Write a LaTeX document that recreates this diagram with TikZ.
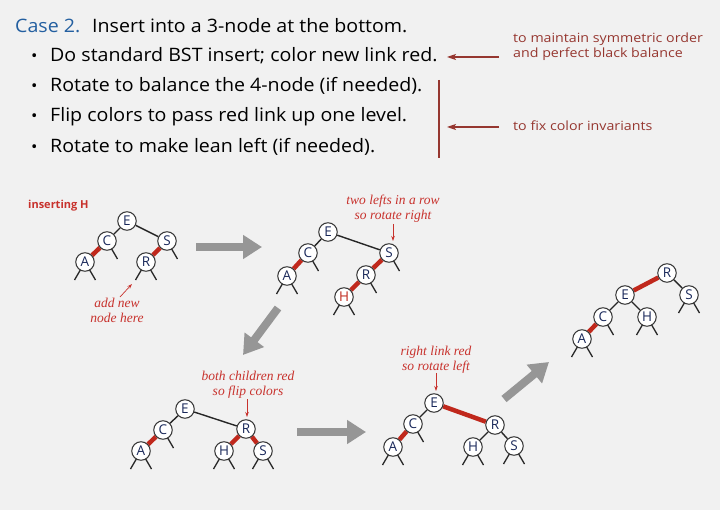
\documentclass[tikz,border=0pt]{standalone}
\usepackage{fontspec}
\setmainfont{Liberation Serif}
\setsansfont{Open Sans}
\newfontfamily\hdrfont{Open Sans}[FakeStretch=1.06]
\newfontfamily\sidefont{Open Sans}[FakeStretch=1.12]
\usetikzlibrary{arrows.meta}
\definecolor{bgc}{RGB}{241,241,241}
\definecolor{casecol}{RGB}{35,95,160}
\definecolor{darkred}{RGB}{150,55,48}
\definecolor{linkred}{RGB}{192,40,28}
\definecolor{annred}{RGB}{200,50,45}
\definecolor{keycol}{RGB}{25,40,90}
\definecolor{arrgrey}{RGB}{150,150,150}
\pgfdeclarelayer{bglayer}
\pgfdeclarelayer{links}
\pgfsetlayers{bglayer,links,main}
\tikzset{
  key/.style={circle, draw=black!80, fill=white, line width=1pt, minimum size=18.5pt, inner sep=0pt,
    font=\sffamily\fontsize{13.5}{13.5}\selectfont, text=keycol},
  newkey/.style={key, text=linkred},
  blk/.style={line width=1.4pt, draw=black!85},
  redl/.style={line width=4.5pt, draw=linkred},
  stubl/.style={line width=1.3pt, draw=black!85},
  bigarrow/.style={line width=8pt, draw=arrgrey, -{Triangle[width=23pt,length=19pt]}},
  note/.style={font=\itshape\fontsize{13.5}{15}\selectfont, text=annred, align=center},
  notearrow/.style={line width=0.7pt, draw=annred, -{Stealth[length=5pt,width=3.5pt]}},
  hdr/.style={anchor=base west, inner sep=0pt, font=\hdrfont\fontsize{18.5}{22}\selectfont},
  side/.style={anchor=base west, inner sep=0pt, font=\sidefont\fontsize{12.7}{15}\selectfont, text=darkred},
  sidearrow/.style={line width=1.1pt, draw=darkred, -{Stealth[length=9pt,width=6pt,inset=2pt]}}
}
\newcommand{\lst}[1]{\draw[stubl] (#1.center) -- ++(-10.5,18);}
\newcommand{\rst}[1]{\draw[stubl] (#1.center) -- ++(10.5,18);}
\newcommand{\bst}[1]{\lst{#1}\rst{#1}}
\begin{document}
\begin{tikzpicture}[x=1pt,y=-1pt]
\begin{pgfonlayer}{bglayer}
\fill[bgc] (0,0) rectangle (720,510);
\end{pgfonlayer}
\useasboundingbox (0,0) rectangle (720,510);

% ---------- header ----------
\node[hdr, text=casecol] (case) at (15,32.7) {Case 2.};
\node[hdr] (casetxt) at (92,32.7) {Insert into a 3-node at the bottom.};
\foreach \y/\t [count=\i] in {61.7/{Do standard BST insert; color new link red.},
                   91.7/{Rotate to balance the 4-node (if needed).},
                   122/{Flip colors to pass red link up one level.},
                   152.7/{Rotate to make lean left (if needed).}}{
  \node[hdr] (b\i) at (31,\y) {\fontsize{16}{16}\selectfont\textbullet};
  \node[hdr] (l\i) at (50,\y) {\t};
}
\node[side] (s1) at (513,43) {to maintain symmetric order};
\node[side] (s2) at (513,58) {and perfect black balance};
\node[side] (s3) at (513,131) {to fix color invariants};
\coordinate (a1s) at (499,57);
\coordinate (a1e) at (447,57);
\coordinate (a2s) at (499,127);
\coordinate (a2e) at (447,127);
\coordinate (vt) at (439,80);
\coordinate (vb) at (439,158);
\draw[sidearrow] (a1s) -- (a1e);
\draw[sidearrow] (a2s) -- (a2e);
\draw[line width=1.1pt, darkred] (vt) -- (vb);

% ---------- tree 1 ----------
\node[anchor=base west, inner sep=0pt, text=annred, font=\sffamily\bfseries\fontsize{11}{12}\selectfont] (ins) at (28,208.5) {inserting H};
\node[key] (E1) at (127,221) {E};
\node[key] (C1) at (107,241) {C};
\node[key] (S1) at (167,241) {S};
\node[key] (A1) at (85,262) {A};
\node[key] (R1) at (146,262) {R};
\node[note] (n1) at (117,310.5) {add new\\node here};
\coordinate (n1t) at (132,284);
\coordinate (n1s) at (120,297);
\draw[notearrow] (n1s) -- (n1t);
\begin{pgfonlayer}{links}
\draw[blk] (E1) -- (C1); \draw[blk] (E1) -- (S1);
\draw[redl] (C1) -- (A1); \draw[redl] (S1) -- (R1);
\rst{C1} \rst{S1} \bst{A1} \bst{R1}
\end{pgfonlayer}

% ---------- tree 2 ----------
\node[note] (n2) at (393,208.5) {two lefts in a row\\so rotate right};
\node[key] (E2) at (328,232) {E};
\node[key] (C2) at (308,253) {C};
\node[key] (S2) at (389,253) {S};
\node[key] (A2) at (287,276) {A};
\node[key] (R2) at (366,275) {R};
\node[newkey] (H2) at (344,297) {H};
\coordinate (n2s) at (393,224);
\coordinate (n2t) at (393,241);
\draw[notearrow] (n2s) -- (n2t);
\begin{pgfonlayer}{links}
\draw[blk] (E2) -- (C2); \draw[blk] (E2) -- (S2);
\draw[redl] (C2) -- (A2); \draw[redl] (S2) -- (R2); \draw[redl] (R2) -- (H2);
\rst{C2} \rst{S2} \rst{R2} \bst{A2} \bst{H2}
\end{pgfonlayer}

% ---------- tree 3 ----------
\node[note] (n3) at (248,385) {both children red\\so flip colors};
\node[key] (E3) at (185,409) {E};
\node[key] (C3) at (163,430) {C};
\node[key] (A3) at (141,451) {A};
\node[key] (R3) at (246,429) {R};
\node[key] (H3) at (224,451) {H};
\node[key] (S3) at (263,451) {S};
\coordinate (n3s) at (247,399);
\coordinate (n3t) at (247,417);
\draw[notearrow] (n3s) -- (n3t);
\begin{pgfonlayer}{links}
\draw[blk] (E3) -- (C3); \draw[blk] (E3) -- (R3);
\draw[redl] (C3) -- (A3); \draw[redl] (R3) -- (H3); \draw[redl] (R3) -- (S3);
\rst{C3} \bst{A3} \bst{H3} \bst{S3}
\end{pgfonlayer}

% ---------- tree 4 ----------
\node[note] (n4) at (436,359.5) {right link red\\so rotate left};
\node[key] (E4) at (434,403) {E};
\node[key] (C4) at (413,424) {C};
\node[key] (A4) at (393,447) {A};
\node[key] (R4) at (495,425) {R};
\node[key] (H4) at (473,447) {H};
\node[key] (S4) at (514,446) {S};
\coordinate (n4s) at (436,373);
\coordinate (n4t) at (436,391);
\draw[notearrow] (n4s) -- (n4t);
\begin{pgfonlayer}{links}
\draw[blk] (E4) -- (C4); \draw[redl] (E4) -- (R4);
\draw[redl] (C4) -- (A4); \draw[blk] (R4) -- (H4); \draw[blk] (R4) -- (S4);
\rst{C4} \bst{A4} \bst{H4} \bst{S4}
\end{pgfonlayer}

% ---------- tree 5 ----------
\node[key] (R5) at (667,273) {R};
\node[key] (E5) at (625,295) {E};
\node[key] (S5) at (689,295) {S};
\node[key] (C5) at (603,317) {C};
\node[key] (H5) at (647,317) {H};
\node[key] (A5) at (582,339) {A};
\begin{pgfonlayer}{links}
\draw[redl] (R5) -- (E5); \draw[blk] (R5) -- (S5);
\draw[blk] (E5) -- (C5); \draw[blk] (E5) -- (H5);
\draw[redl] (C5) -- (A5);
\rst{C5} \bst{A5} \bst{H5} \bst{S5}
\end{pgfonlayer}

% ---------- big arrows ----------
\coordinate (g1s) at (196,247); \coordinate (g1e) at (262,247);
\coordinate (g2s) at (278,308); \coordinate (g2e) at (243,355);
\coordinate (g3s) at (297,432); \coordinate (g3e) at (366,432);
\coordinate (g4s) at (504,399); \coordinate (g4e) at (549,362);
\draw[bigarrow] (g1s) -- (g1e);
\draw[bigarrow] (g2s) -- (g2e);
\draw[bigarrow] (g3s) -- (g3e);
\draw[bigarrow] (g4s) -- (g4e);
\end{tikzpicture}
\end{document}
